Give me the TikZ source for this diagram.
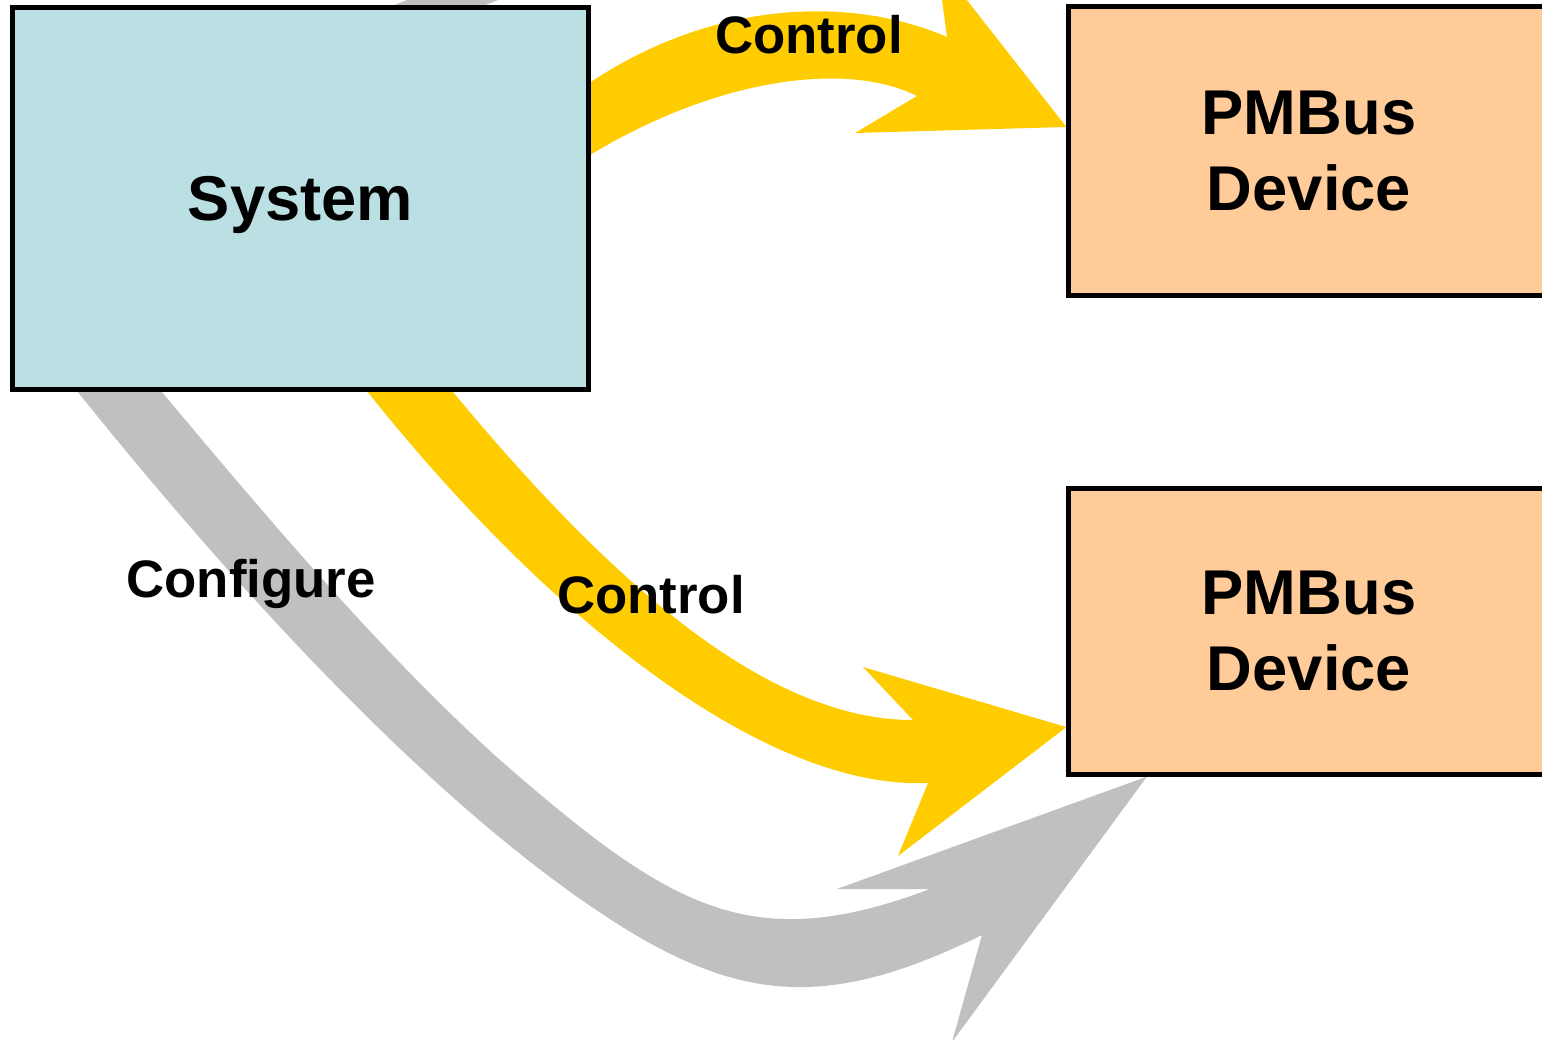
\documentclass[tikz,border=0pt]{standalone}
\usepackage{fontspec}
\setmainfont{Liberation Sans}
\usepackage{tikz}
\usetikzlibrary{positioning,backgrounds}

\definecolor{sysblue}{RGB}{187,224,227}
\definecolor{devorange}{RGB}{255,204,153}
\definecolor{ctrlyellow}{RGB}{255,204,0}
\definecolor{cfggrey}{RGB}{192,192,192}

\begin{document}
\begin{tikzpicture}[x=0.01cm,y=-0.01cm,
    box/.style={draw=black,line width=0.05cm,align=center,inner sep=0pt,
      font=\fontsize{18}{21.6}\selectfont\bfseries},
    flowtext/.style={anchor=base,font=\fontsize{15}{18}\selectfont\bfseries},
    yellowflow/.style={fill=ctrlyellow},
    greyflow/.style={fill=cfggrey}]
  \useasboundingbox (0,0) rectangle (1542,1039);

			\begin{scope}[local bounding box=blocks]
    \node[box,fill=sysblue,minimum width=5.76cm,minimum height=3.82cm,text depth=0pt] (sys) at (300.5,198.5) {System};
    \node[box,fill=devorange,minimum width=4.8cm,minimum height=2.88cm] (dev1) at (1309,151) {PMBus\\Device};
    \node[box,fill=devorange,minimum width=4.8cm,minimum height=2.85cm] (dev2) at (1309,631.5) {PMBus\\Device};
			\end{scope}

    % where the arrow heads touch the devices
    \coordinate (tipA) at ([yshift=0.24cm]dev1.west);
    \coordinate (tipB) at ([yshift=-0.955cm]dev2.west);
    \coordinate (tipC) at ([xshift=-1.62cm]dev2.south);

    \node[flowtext] (ctrlA) at (809,53) {Control};
    \node[flowtext] (ctrlB) at (651,613) {Control};
    \node[flowtext] (config) at (251,597) {Configure};

			\begin{scope}[on background layer]
    % grey band coming in from above, behind the system
    \fill[greyflow] (332,30) -- (432,-10) -- (523,-10) -- (423,30) -- cycle;
    % configure
    \fill[greyflow] (157,386) .. controls (282,536) and (390,661) .. (500,760)
      .. controls (670,908) and (750,957) .. (930,889)
      -- (837,889) -- (tipC) -- (952,1042) -- (982,935)
      .. controls (812,1018) and (720,1004) .. (550,877)
      .. controls (390,757) and (218,567) .. (73,386) -- cycle;
    % control, upper device
    \fill[yellowflow] (585,86) .. controls (710,0) and (850,-5) .. (947,37)
      -- (937,-38) -- (tipA) -- (855,133) -- (917,96)
      .. controls (850,62) and (720,75) .. (585,158) -- cycle;
    % control, lower device
    \fill[yellowflow] (448,386) .. controls (600,570) and (760,720) .. (913,720)
      -- (863,667) -- (tipB) -- (898,856) -- (928,783)
      .. controls (760,790) and (540,610) .. (363,386) -- cycle;
			\end{scope}
\end{tikzpicture}
\end{document}
